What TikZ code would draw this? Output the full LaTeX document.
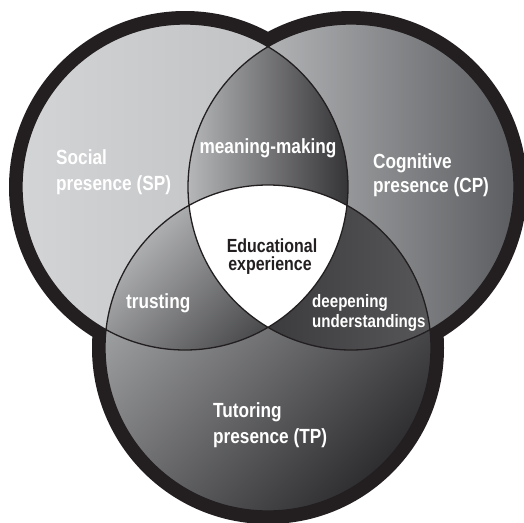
\documentclass[tikz,border=0pt]{standalone}
\usepackage{fontspec}
\newfontfamily\labfont[FakeStretch=0.84]{Liberation Sans}
\definecolor{ink}{HTML}{231F20}
\definecolor{lA}{HTML}{D3D4D6}
\definecolor{lB}{HTML}{BBBCBE}
\definecolor{rA}{HTML}{CDCED0}
\definecolor{rB}{HTML}{5C5D60}
\definecolor{bA}{HTML}{ABACAE}
\definecolor{bB}{HTML}{2E2E31}
\definecolor{mA}{HTML}{B7B8BA}
\definecolor{mB}{HTML}{333336}
\definecolor{tA}{HTML}{BABBBD}
\definecolor{tB}{HTML}{323235}
\definecolor{dA}{HTML}{2E2E31}
\definecolor{dB}{HTML}{57575A}
\tikzset{
  ring/.style={fill=ink},
  rim/.style={draw=ink, line width=1.3pt},
  lab/.style={text=white, inner sep=0pt, font=\labfont\bfseries\fontsize{20.5}{24}\selectfont},
  labc/.style={text=ink, inner sep=0pt, font=\labfont\bfseries\fontsize{19}{22}\selectfont},
  labd/.style={text=white, inner sep=0pt, font=\labfont\bfseries\fontsize{18}{21}\selectfont}
}
\begin{document}
\begin{tikzpicture}[x=1pt,y=-1pt]
\useasboundingbox (0,0) rectangle (524,522);
\coordinate (cl) at (185,187);
\coordinate (cr) at (351,187);
\coordinate (cb) at (268,348);
% outer black ring
\fill[ring] (cl) circle (176pt) (cr) circle (176pt) (cb) circle (176pt);
% single circles
\shade[left color=lA, right color=lB] (cl) circle (163pt);
\shade[left color=rA, right color=rB] (cr) circle (163pt);
\shade[top color=bA, bottom color=bB, shading angle=45] (cb) circle (163pt);
% social & cognitive overlap
\begin{scope}
  \clip (cl) circle (163pt);
  \clip (cr) circle (163pt);
  \shade[left color=mA, right color=mB] (186,40) rectangle (350,335);
\end{scope}
% social & tutoring overlap
\begin{scope}
  \clip (cl) circle (163pt);
  \clip (cb) circle (163pt);
  \shade[top color=tA, bottom color=tB, shading angle=45] (104,195) rectangle (350,352);
\end{scope}
% cognitive & tutoring overlap
\begin{scope}
  \clip (cr) circle (163pt);
  \clip (cb) circle (163pt);
  \shade[left color=dA, right color=dB] (186,195) rectangle (432,352);
\end{scope}
% centre
\begin{scope}
  \clip (cl) circle (163pt);
  \clip (cr) circle (163pt);
  \fill[white] (cb) circle (163pt);
\end{scope}
% thin outlines
\draw[rim] (cl) circle (163pt) (cr) circle (163pt) (cb) circle (163pt);
% labels
\node[lab, anchor=base west] (sp1) at (56,164) {Social};
\node[lab, anchor=base west] (sp2) at (56,190) {presence (SP)};
\node[lab, anchor=base west] (cp1) at (373,168) {Cognitive};
\node[lab, anchor=base west] (cp2) at (373,192) {presence (CP)};
\node[lab, anchor=base west] (tp1) at (213,417) {Tutoring};
\node[lab, anchor=base west] (tp2) at (213,443) {presence (TP)};
\node[lab, anchor=base] (mm) at (268,153) {meaning-making};
\node[lab, anchor=base west] (tr) at (126,308) {trusting};
\node[labd, anchor=base west] (dp1) at (312,307) {deepening};
\node[labd, anchor=base west] (dp2) at (312,327) {understandings};
\node[labc, anchor=base] (ed1) at (272,252) {Educational};
\node[labc, anchor=base] (ed2) at (270,270) {experience};
\end{tikzpicture}
\end{document}
